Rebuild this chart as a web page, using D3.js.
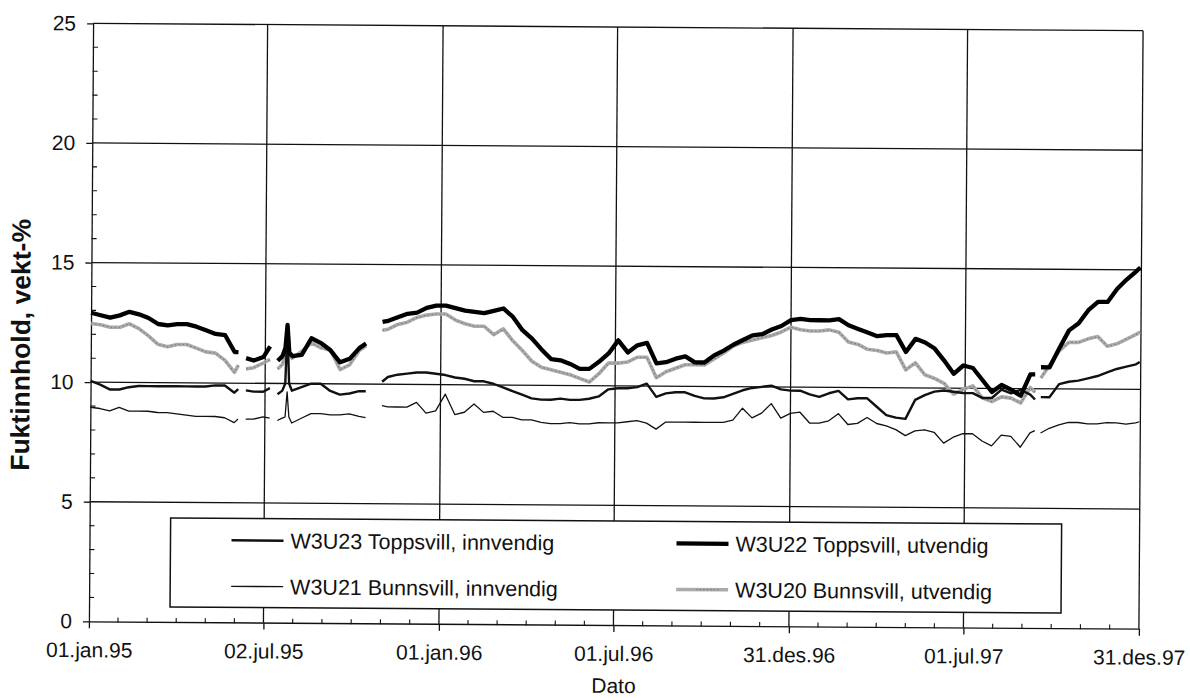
<!DOCTYPE html>
<html>
<head>
<meta charset="utf-8">
<script src="https://cdn.jsdelivr.net/npm/d3@7"></script>
<style>
  body { margin: 0; background: #fff; }
  svg { display: block; font-family: "Liberation Sans", Arial, sans-serif; }
</style>
</head>
<body>
<div id="chart"></div>
<script>
// Days after 01.jan.95 for each reading. null = logger gap
const dayOffsets = [0,10,20,30,40,50,60,70,80,90,100,110,120,130,140,150,
  154,158,162,170,180,187,191,195,
  200,203,205,207,210,220,230,240,250,260,270,280,
  287,295,304,
  310,320,330,340,350,360,370,380,390,400,
  410,420,430,440,450,460,470,480,490,500,
  510,520,530,540,550,560,570,580,590,600,
  610,620,630,640,650,660,670,680,690,700,
  710,720,730,740,750,760,770,780,790,800,
  810,820,830,840,850,860,870,880,890,900,
  910,920,930,940,950,960,970,980,
  985,988,991,
  1000,1010,1020,1030,1040,1050,1060,1070,1080,1090,1094];

const w3u23 = [10.05,9.9,9.7,9.7,9.8,9.85,9.85,9.85,9.85,9.85,9.85,9.85,9.85,9.9,9.9,9.6,
  9.75,null,9.7,9.65,9.65,9.8,null,9.55,
  9.7,10.0,12.35,10.0,9.7,9.85,10.0,10.0,9.7,9.55,9.6,9.7,
  9.7,null,10.1,
  10.3,10.4,10.45,10.5,10.5,10.45,10.4,10.3,10.25,10.15,
  10.15,10.05,9.9,9.75,9.6,9.45,9.4,9.4,9.45,9.4,
  9.4,9.45,9.55,9.85,9.9,9.9,9.95,10.1,9.55,9.7,
  9.75,9.75,9.6,9.5,9.5,9.55,9.7,9.85,9.95,10.0,
  10.05,9.9,9.85,9.85,9.7,9.6,9.75,9.85,9.5,9.55,
  9.55,9.2,8.85,8.75,8.7,9.5,9.7,9.85,9.9,9.85,
  9.8,9.8,9.6,9.6,9.95,9.8,9.95,9.75,
  9.55,null,9.65,
  9.65,10.2,10.3,10.35,10.45,10.55,10.7,10.85,10.95,11.05,11.15];

const w3u22 = [12.9,12.8,12.7,12.8,12.95,12.85,12.7,12.45,12.4,12.45,12.45,12.35,12.2,12.05,12.0,11.3,
  11.3,null,11.05,10.95,11.1,11.55,null,10.95,
  11.15,11.5,12.45,11.3,11.15,11.2,11.9,11.7,11.4,10.9,11.05,11.5,
  11.7,null,12.6,
  12.65,12.8,12.95,13.0,13.2,13.3,13.3,13.2,13.1,13.05,
  13.0,13.1,13.2,12.85,12.3,11.95,11.5,11.1,11.05,10.9,
  10.7,10.7,11.0,11.35,11.9,11.4,11.7,11.8,10.95,11.0,
  11.15,11.25,11.0,11.0,11.3,11.5,11.75,11.95,12.15,12.2,
  12.4,12.55,12.8,12.85,12.8,12.8,12.8,12.85,12.6,12.45,
  12.3,12.15,12.2,12.2,11.5,12.05,11.9,11.65,11.15,10.6,
  10.95,10.85,10.35,9.85,10.15,9.95,9.7,10.6,
  10.6,null,10.9,
  10.9,11.7,12.45,12.75,13.3,13.65,13.65,14.2,14.6,14.95,15.1];

const w3u21 = [8.95,8.9,8.8,8.95,8.8,8.8,8.8,8.75,8.75,8.7,8.65,8.6,8.6,8.6,8.55,8.35,
  8.5,null,8.5,8.5,8.6,8.55,null,8.45,
  8.55,8.6,9.65,8.6,8.35,8.55,8.75,8.75,8.7,8.7,8.75,8.65,
  8.6,null,9.1,
  9.05,9.05,9.05,9.25,8.8,8.9,9.6,8.75,8.85,9.2,
  8.85,8.9,8.65,8.65,8.55,8.55,8.45,8.4,8.4,8.45,
  8.4,8.4,8.45,8.45,8.45,8.5,8.55,8.45,8.2,8.5,
  8.5,8.5,8.5,8.5,8.5,8.5,8.6,9.1,8.7,8.9,
  9.3,8.7,8.9,8.95,8.5,8.5,8.6,8.9,8.45,8.5,
  8.75,8.5,8.4,8.25,8.0,8.2,8.25,8.15,7.7,7.95,
  8.1,8.1,7.8,7.6,8.05,8.0,7.55,8.15,
  8.25,null,8.15,
  8.35,8.5,8.6,8.6,8.55,8.55,8.6,8.6,8.55,8.6,8.65];

const w3u20 = [12.45,12.4,12.3,12.3,12.45,12.25,11.95,11.6,11.5,11.6,11.6,11.45,11.3,11.25,10.95,10.45,
  10.75,null,10.6,10.65,10.85,11.0,null,10.6,
  10.8,11.3,12.45,11.3,11.05,11.35,11.7,11.5,11.4,10.6,10.8,11.4,
  11.6,null,12.25,
  12.3,12.5,12.6,12.8,12.9,12.95,12.95,12.7,12.55,12.45,
  12.45,12.1,12.35,11.85,11.45,11.0,10.75,10.65,10.55,10.45,
  10.3,10.15,10.5,10.95,10.95,11.0,11.2,11.2,10.35,10.6,
  10.75,10.9,10.9,10.9,11.15,11.4,11.7,11.85,11.95,12.05,
  12.15,12.3,12.5,12.4,12.35,12.35,12.4,12.3,11.9,11.8,
  11.6,11.55,11.45,11.5,10.75,11.05,10.55,10.4,10.2,9.75,
  9.95,10.1,9.6,9.45,9.65,9.6,9.4,10.05,
  9.85,null,10.45,
  11.0,11.6,11.95,11.95,12.1,12.2,11.8,11.9,12.1,12.3,12.4];

const seriesNames = ["W3U23 Toppsvill, innvendig", "W3U22 Toppsvill, utvendig",
                     "W3U21 Bunnsvill, innvendig", "W3U20 Bunnsvill, utvendig"];
const tickDates = ["1995-01-01","1995-07-02","1996-01-01","1996-07-01","1996-12-31","1997-07-01","1997-12-31"];
const tickLabels = ["01.jan.95","02.jul.95","01.jan.96","01.jul.96","31.des.96","01.jul.97","31.des.97"];
const yTicks = [0, 5, 10, 15, 20, 25];

const width = 1190, height = 700;
const parse = d3.timeParse("%Y-%m-%d");
const start = parse("1995-01-01");
const majorDates = tickDates.map(parse);

const x = d3.scaleTime()
    .domain([start, parse("1997-12-31")])
    .range([91, 1141]);
const y = d3.scaleLinear()
    .domain([0, 25])
    .range([625, 27]);

const svg = d3.select("#chart").append("svg")
    .attr("width", width)
    .attr("height", height);

svg.append("rect").attr("width", width).attr("height", height).attr("fill", "#fff");

// the original is a scan that sits a little crooked
const g = svg.append("g").attr("transform", "rotate(0.4,616,326)");

// gridlines
g.append("g").selectAll("line")
    .data(yTicks.slice(1))
    .join("line")
    .attr("x1", x.range()[0]).attr("x2", x.range()[1])
    .attr("y1", d => y(d)).attr("y2", d => y(d))
    .attr("stroke", "#111").attr("stroke-width", 1.3);

g.append("g").selectAll("line")
    .data(majorDates.slice(1))
    .join("line")
    .attr("x1", d => x(d)).attr("x2", d => x(d))
    .attr("y1", y(0)).attr("y2", y(25))
    .attr("stroke", "#111").attr("stroke-width", 1.3);

// minor ticks
const yMinor = d3.range(1, 25).filter(v => v % 5 !== 0);
g.append("g").selectAll("line")
    .data(yMinor)
    .join("line")
    .attr("x1", x.range()[0]).attr("x2", x.range()[0] + 5)
    .attr("y1", d => y(d)).attr("y2", d => y(d))
    .attr("stroke", "#111").attr("stroke-width", 1.1);

const xMinor = [];
for (let i = 0; i < majorDates.length - 1; i++) {
    const a = +majorDates[i], b = +majorDates[i + 1];
    for (let k = 1; k < 6; k++) xMinor.push(new Date(a + (b - a) * k / 6));
}
g.append("g").selectAll("line")
    .data(xMinor)
    .join("line")
    .attr("x1", d => x(d)).attr("x2", d => x(d))
    .attr("y1", y(0) - 4).attr("y2", y(0) + 1)
    .attr("stroke", "#111").attr("stroke-width", 1.1);

// axes
const xAxis = g.append("g")
    .attr("transform", "translate(0," + y(0) + ")")
    .call(d3.axisBottom(x)
        .tickValues(majorDates)
        .tickFormat((d, i) => tickLabels[i])
        .tickSizeInner(7).tickSizeOuter(0));
xAxis.selectAll("text")
    .attr("dy", null).attr("y", 36)
    .style("font-size", "21px").attr("fill", "#111");

const yAxis = g.append("g")
    .attr("transform", "translate(" + x.range()[0] + ",0)")
    .call(d3.axisLeft(y)
        .tickValues(yTicks)
        .tickSizeInner(6).tickSizeOuter(0).tickPadding(11));
yAxis.selectAll("text").style("font-size", "21px").attr("fill", "#111");

g.selectAll(".domain, .tick line").attr("stroke", "#111").attr("stroke-width", 1.3);

// axis titles
g.append("text")
    .attr("x", 616).attr("y", 693)
    .attr("text-anchor", "middle")
    .style("font-size", "21px")
    .attr("fill", "#111")
    .text("Dato");

g.append("text")
    .attr("transform", "translate(30,349) rotate(-90)")
    .attr("text-anchor", "middle")
    .style("font-size", "26.5px")
    .style("font-weight", "bold")
    .attr("fill", "#111")
    .text("Fuktinnhold, vekt-%");

// series
const makeData = vals => dayOffsets.map((d, i) => ({date: d3.timeDay.offset(start, d), v: vals[i]}));

const line = d3.line()
    .defined(d => d.v !== null)
    .x(d => x(d.date))
    .y(d => y(d.v));

const styles = [
    {vals: w3u20, stroke: "#ababab", width: 3.6, dots: true},
    {vals: w3u21, stroke: "#111", width: 1.3},
    {vals: w3u23, stroke: "#111", width: 2.4},
    {vals: w3u22, stroke: "#000", width: 4.3}
];

styles.forEach(s => {
    const data = makeData(s.vals);
    g.append("path")
        .datum(data)
        .attr("d", line)
        .attr("fill", "none")
        .attr("stroke", s.stroke)
        .attr("stroke-width", s.width)
        .attr("stroke-linejoin", "round");
    if (s.dots) {
        g.append("path")
            .datum(data)
            .attr("d", line)
            .attr("fill", "none")
            .attr("stroke", "#7a7a7a")
            .attr("stroke-width", 1.1)
            .attr("stroke-dasharray", "1.5,2.5");
    }
});

// legend
const legend = g.append("g");
legend.append("rect")
    .attr("x", 172).attr("y", 521)
    .attr("width", 891).attr("height", 89)
    .attr("fill", "#fff")
    .attr("stroke", "#111").attr("stroke-width", 1.5);

const legendItems = [
    {name: seriesNames[0], lx: 233, ly: 543, stroke: "#111", width: 2.4},
    {name: seriesNames[1], lx: 678, ly: 543, stroke: "#000", width: 4.3},
    {name: seriesNames[2], lx: 233, ly: 589, stroke: "#111", width: 1.3},
    {name: seriesNames[3], lx: 678, ly: 589, stroke: "#ababab", width: 3.6, dots: true}
];

legendItems.forEach(it => {
    legend.append("line")
        .attr("x1", it.lx).attr("x2", it.lx + 52)
        .attr("y1", it.ly).attr("y2", it.ly)
        .attr("stroke", it.stroke).attr("stroke-width", it.width);
    if (it.dots) {
        legend.append("line")
            .attr("x1", it.lx + 20).attr("x2", it.lx + 44)
            .attr("y1", it.ly).attr("y2", it.ly)
            .attr("stroke", "#7a7a7a").attr("stroke-width", 1.1)
            .attr("stroke-dasharray", "1.5,2");
    }
    legend.append("text")
        .attr("x", it.lx + 59).attr("y", it.ly)
        .attr("dy", "0.36em")
        .style("font-size", "21.5px")
        .attr("fill", "#111")
        .text(it.name);
});
</script>
</body>
</html>
